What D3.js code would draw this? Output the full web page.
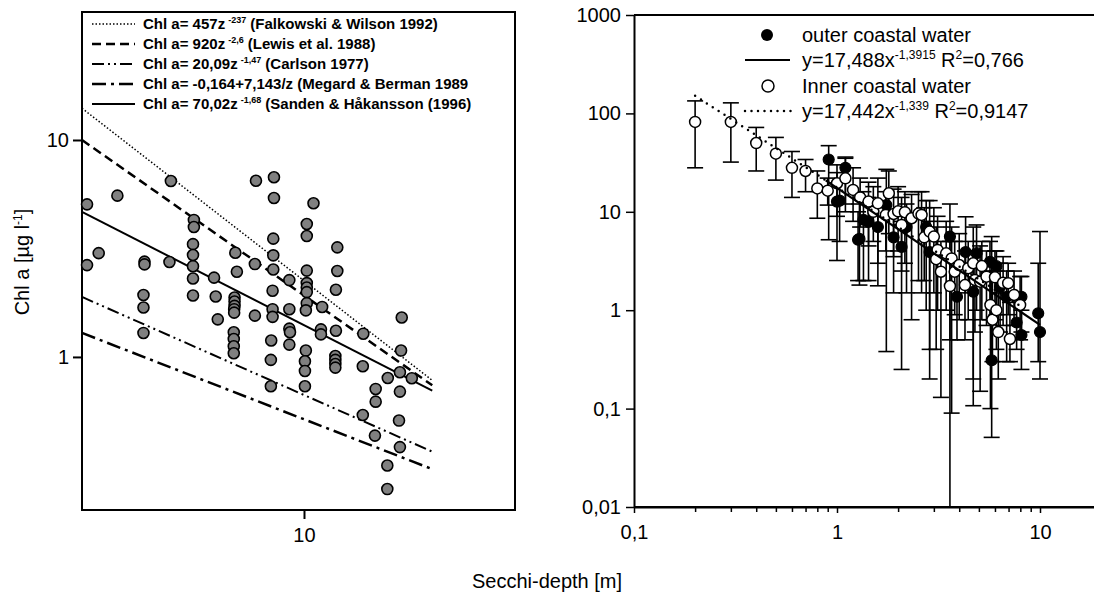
<!DOCTYPE html>
<html>
<head>
<meta charset="utf-8">
<script src="https://cdn.jsdelivr.net/npm/d3@7"></script>
<style>
  body { margin: 0; background: #fff; }
  text { font-family: Arial, "Liberation Sans", sans-serif; fill: #000; }
</style>
</head>
<body>
<script>
// left panel: Secchi depth vs Chl a, with literature models
const leftDepth = [6.52,5.49,4.98,8.57,9.08,9.08,10.31,7.02,7.02,5.17,7.00,7.00,4.98,5.99,5.99,6.49,7.00,8.02,8.06,8.54,
  7.00,7.49,7.00,7.53,5.97,5.97,8.00,8.00,8.00,7.99,7.99,7.58,8.54,5.97,7.98,7.98,7.98,7.98,10.09,10.09,
  11.13,9.06,9.06,9.06,9.54,10.09,11.13,10.09,10.09,10.09,11.08,9.04,10.09,10.06,10.60,9.04,9.04,9.54,13.69,9.54,
  9.56,10.56,10.56,11.08,12.10,9.00,9.54,10.06,13.66,11.06,11.06,11.06,11.06,10.03,10.03,8.99,12.08,13.61,14.14,13.09,
  8.99,10.03,12.59,13.61,12.59,12.08,13.57,12.56,13.61,13.07,13.07];
const leftChl = [6.47,5.54,5.05,6.49,6.73,5.40,5.11,4.28,3.97,3.01,3.31,2.95,2.65,2.75,2.67,2.74,2.62,3.02,2.47,2.68,
  2.30,2.32,1.92,1.90,1.93,1.69,1.88,1.80,1.72,1.66,1.60,1.49,1.55,1.29,1.30,1.21,1.12,1.04,4.10,3.61,
  3.20,3.51,2.94,2.53,2.26,2.50,2.49,2.19,2.09,1.99,2.04,2.02,1.77,1.64,1.70,1.66,1.53,1.66,1.52,1.35,
  1.30,1.34,1.27,1.32,1.28,1.19,1.14,1.07,1.07,1.01,0.969,0.928,0.893,0.955,0.862,0.969,0.906,0.850,0.798,0.800,
  0.733,0.733,0.712,0.692,0.622,0.540,0.509,0.434,0.384,0.316,0.246];

// model lines, start and end
const modelDepth = [4.9, 15.1];
const modelChl = [[14.0, 0.78], [10.0, 0.74], [1.89, 0.366], [1.29, 0.304], [4.66, 0.70]];
const modelLabel = ["Chl a= 457z", "Chl a= 920z", "Chl a= 20,09z", "Chl a= -0,164+7,143/z", "Chl a= 70,02z"];
const modelSup = ["-237", "-2,6", "-1,47", "", "-1,68"];
const modelRef = [" (Falkowski & Wilson 1992)", " (Lewis et al. 1988)", " (Carlson 1977)", " (Megard & Berman 1989", " (Sanden & Håkansson (1996)"];
const modelDash = ["1.5,2", "9,5", "12,4,2,4,2,4", "14,5,3,5", null];
const modelWidth = [1.5, 2.5, 2, 2.5, 2];

// right panel: inner and outer coastal water, mean with range
const innerX = [0.2,0.3,0.4,0.5,0.6,0.7,0.8,0.9,1.0,1.1,1.2,1.3,1.43,1.51,1.59,1.74,1.8,1.9,2.0,2.08,
  2.16,2.33,2.52,2.61,2.69,2.86,3.0,3.08,3.13,3.25,3.45,3.6,3.67,3.8,4.0,4.27,4.43,4.69,4.78,5.07,
  5.17,5.45,5.7,5.83,6.0,6.1,6.23,6.58,6.97,7.11,7.45,7.98];
const innerY = [82,82,50,39,28,26,17.3,16.4,19.5,21.9,16.7,14.0,12.7,10.0,12.2,9.3,15.4,9.5,10.1,7.35,
  9.9,8.6,9.6,9.3,5.5,6.3,5.6,3.3,4.1,2.46,3.78,1.76,3.36,2.46,2.88,1.8,2.67,3.0,2.03,1.95,
  2.81,2.19,1.13,0.8,2.16,1.0,0.6,1.9,1.88,0.51,1.43,1.13];
const innerHi = [134,128,72,57,41,34,26,22,30,35,28,22,20,18,22,16,26,17,18,14,
  16,15,16,16,11,13,11,7,9,5,8,5,7,5,6,4,5,7,4,4.5,
  5,4,2.5,2,4,2.5,1.5,3.5,3,1.2,2.5,2.2];
const innerLo = [28,32,26,21,14,16,8.6,11.7,9,12,8,7,4.5,5,3,4,6,3.5,4,2.5,
  3,0.8,2,1.5,2,0.2,1.5,0.4,1,0.13,1,0.5,0.09,0.9,0.8,0.5,0.8,0.2,0.6,0.15,
  0.8,0.7,0.1,0.3,0.8,0.4,0.2,0.7,0.9,0.3,0.7,0.5];

const outerX = [0.91,1.0,1.03,1.1,1.27,1.29,1.35,1.43,1.59,1.75,1.9,2.08,2.2,2.75,2.86,3.6,3.9,4.3,4.69,4.87,
  5.67,5.78,6.1,6.36,6.85,7.67,8.1,8.1,9.8,10];
const outerY = [34,12.7,13,28,5.2,5.3,8.3,7.9,7.0,11.7,5.5,4.4,7.0,7.0,3.9,5.6,1.37,3.9,1.54,3.8,
  3.1,0.31,2.8,1.73,1.37,0.75,0.56,1.37,0.93,0.6];
const outerHi = [47,25,20,36,10,12,16,14,12,27,10,8,12,13,8,12,3,8.9,3,7.35,
  5,5.6,4,3,2.5,1.5,1,2.2,3,6.3];
const outerLo = [5.2,3.2,5,10,2,1.8,2,2,1.77,0.38,1.5,0.25,1.5,1,0.4,0.001,0.5,1.5,0.107,1,
  0.8,0.051,0.9,0.6,0.3,0.4,0.25,0.6,0.3,0.2];

// power fits (start / end)
const outerFitX = [0.88, 10], outerFitY = [20.9, 0.71];
const innerFitX = [0.2, 8], innerFitY = [151, 1.1];

const svg = d3.select("body").append("svg")
  .attr("width", 1094)
  .attr("height", 598);

// ---------- left panel ----------
const lx = d3.scaleLog().domain([4.9, 19.7]).range([82, 515]);
const ly = d3.scaleLog().domain([0.197, 38.9]).range([510, 12]);

const left = svg.append("g");

left.append("rect")
  .attr("x", 82).attr("y", 12)
  .attr("width", 433).attr("height", 498)
  .attr("fill", "none").attr("stroke", "#000").attr("stroke-width", 2);

const lyAxis = left.append("g")
  .attr("transform", "translate(82,0)")
  .call(d3.axisLeft(ly).tickValues([1, 10]).tickFormat(d3.format("d")).tickSize(9).tickSizeOuter(0).tickPadding(4));
const lxAxis = left.append("g")
  .attr("transform", "translate(0,510)")
  .call(d3.axisBottom(lx).tickValues([10]).tickFormat(d3.format("d")).tickSize(9).tickSizeOuter(0).tickPadding(9));
[lyAxis, lxAxis].forEach(a => {
  a.select(".domain").remove();
  a.selectAll("line").attr("stroke-width", 2);
  a.selectAll("text").style("font-size", "20px").style("font-family", "Arial, 'Liberation Sans', sans-serif");
});

const line = d3.line();
modelChl.forEach((c, i) => {
  left.append("path")
    .attr("d", line(modelDepth.map((d, j) => [lx(d), ly(c[j])])))
    .attr("fill", "none")
    .attr("stroke", "#000")
    .attr("stroke-width", modelWidth[i])
    .attr("stroke-dasharray", modelDash[i]);
});

left.selectAll("circle.pt")
  .data(leftDepth)
  .enter()
  .append("circle")
  .attr("cx", d => lx(d))
  .attr("cy", (d, i) => ly(leftChl[i]))
  .attr("r", 5.5)
  .attr("fill", "#808080")
  .attr("stroke", "#000")
  .attr("stroke-width", 1.6);

// legend
modelLabel.forEach((lab, i) => {
  const y = 24 + i * 20;
  left.append("line")
    .attr("x1", 92).attr("x2", 135).attr("y1", y).attr("y2", y)
    .attr("stroke", "#000")
    .attr("stroke-width", modelWidth[i])
    .attr("stroke-dasharray", modelDash[i]);
  const t = left.append("text")
    .attr("x", 143).attr("y", y + 5)
    .style("font-size", "15px").style("font-weight", "bold");
  t.append("tspan").text(lab);
  if (modelSup[i]) {
    t.append("tspan").attr("dx", 3).attr("dy", -6).style("font-size", "9px").text(modelSup[i]);
    t.append("tspan").attr("dy", 6).text(modelRef[i]);
  } else {
    t.append("tspan").text(modelRef[i]);
  }
});

svg.append("text")
  .attr("transform", "translate(29,262) rotate(-90)")
  .attr("text-anchor", "middle")
  .style("font-size", "20px")
  .call(t => {
    t.append("tspan").text("Chl a [µg l");
    t.append("tspan").attr("dy", -7).style("font-size", "12px").text("-1");
    t.append("tspan").attr("dy", 7).text("]");
  });

// ---------- right panel ----------
const rx = d3.scaleLog().domain([0.1, 100]).range([634, 1243]);
const ry = d3.scaleLog().domain([0.01, 1000]).range([507, 15]);
const comma = d => String(d).replace(".", ",");

const right = svg.append("g");

const ryAxis = right.append("g")
  .attr("transform", "translate(634,0)")
  .call(d3.axisLeft(ry).tickValues([0.01, 0.1, 1, 10, 100, 1000]).tickFormat(comma).tickSize(8).tickSizeOuter(0).tickPadding(5));

const minorTicks = [];
[0.1, 1, 10].forEach(b => { for (let k = 2; k <= 9; k++) minorTicks.push(b * k); });
const rxMinor = right.append("g")
  .attr("transform", "translate(0,507)")
  .call(d3.axisBottom(rx).tickValues(minorTicks).tickFormat("").tickSize(5).tickSizeOuter(0));
const rxAxis = right.append("g")
  .attr("transform", "translate(0,507)")
  .call(d3.axisBottom(rx).tickValues([0.1, 1, 10]).tickFormat(comma).tickSize(6).tickSizeOuter(0).tickPadding(12));

[ryAxis, rxMinor, rxAxis].forEach(a => {
  a.select(".domain").attr("stroke-width", 2);
  a.selectAll("line").attr("stroke-width", 1.5);
  a.selectAll("text").style("font-size", "20px").style("font-family", "Arial, 'Liberation Sans', sans-serif");
});
rxMinor.select(".domain").remove();
right.append("line")
  .attr("x1", 634).attr("x2", 1094).attr("y1", 15).attr("y2", 15)
  .attr("stroke", "#000").attr("stroke-width", 2);
right.append("line")
  .attr("x1", 634).attr("x2", 1094).attr("y1", 507).attr("y2", 507)
  .attr("stroke", "#000").attr("stroke-width", 2);

function errorBars(xs, his, los) {
  const g = right.append("g").attr("stroke", "#000").attr("stroke-width", 1.6);
  xs.forEach((x, i) => {
    const cx = rx(x);
    const top = ry(his[i]);
    const bot = Math.min(ry(Math.max(los[i], 0.01)), 507);
    g.append("line").attr("x1", cx).attr("x2", cx).attr("y1", top).attr("y2", bot);
    g.append("line").attr("x1", cx - 8).attr("x2", cx + 8).attr("y1", top).attr("y2", top);
    if (los[i] >= 0.01) g.append("line").attr("x1", cx - 8).attr("x2", cx + 8).attr("y1", bot).attr("y2", bot);
  });
}
errorBars(outerX, outerHi, outerLo);
errorBars(innerX, innerHi, innerLo);

right.selectAll("circle.outer")
  .data(outerX)
  .enter()
  .append("circle")
  .attr("cx", d => rx(d))
  .attr("cy", (d, i) => ry(outerY[i]))
  .attr("r", 5.5)
  .attr("fill", "#000")
  .attr("stroke", "#000")
  .attr("stroke-width", 1.2);

right.selectAll("circle.inner")
  .data(innerX)
  .enter()
  .append("circle")
  .attr("cx", d => rx(d))
  .attr("cy", (d, i) => ry(innerY[i]))
  .attr("r", 5.5)
  .attr("fill", "#fff")
  .attr("stroke", "#000")
  .attr("stroke-width", 1.5);

right.append("path")
  .attr("d", line(outerFitX.map((x, i) => [rx(x), ry(outerFitY[i])])))
  .attr("fill", "none").attr("stroke", "#000").attr("stroke-width", 2.2);
right.append("path")
  .attr("d", line(innerFitX.map((x, i) => [rx(x), ry(innerFitY[i])])))
  .attr("fill", "none").attr("stroke", "#000").attr("stroke-width", 2.5)
  .attr("stroke-dasharray", "0,7").attr("stroke-linecap", "round");

// right legend
const legRows = [35, 60, 86, 111];
right.append("circle").attr("cx", 767).attr("cy", legRows[0]).attr("r", 6).attr("fill", "#000");
right.append("line").attr("x1", 745).attr("x2", 790).attr("y1", legRows[1]).attr("y2", legRows[1])
  .attr("stroke", "#000").attr("stroke-width", 2.2);
right.append("circle").attr("cx", 768).attr("cy", legRows[2]).attr("r", 6)
  .attr("fill", "#fff").attr("stroke", "#000").attr("stroke-width", 1.5);
right.append("line").attr("x1", 745).attr("x2", 792).attr("y1", legRows[3]).attr("y2", legRows[3])
  .attr("stroke", "#000").attr("stroke-width", 2.5)
  .attr("stroke-dasharray", "0,6.5").attr("stroke-linecap", "round");

const legText = (y, parts) => {
  const t = right.append("text").attr("x", 802).attr("y", y + 7).style("font-size", "20px");
  parts.forEach(p => {
    const s = t.append("tspan").text(p[0]);
    if (p[1] === "sup") s.attr("dy", -8).style("font-size", "12px");
    if (p[1] === "base") s.attr("dy", 8);
  });
};
legText(legRows[0], [["outer coastal water"]]);
legText(legRows[1], [["y=17,488x"], ["-1,3915", "sup"], [" R", "base"], ["2", "sup"], ["=0,766", "base"]]);
legText(legRows[2], [["Inner coastal water"]]);
legText(legRows[3], [["y=17,442x"], ["-1,339", "sup"], [" R", "base"], ["2", "sup"], ["=0,9147", "base"]]);

svg.append("text")
  .attr("x", 547).attr("y", 588)
  .attr("text-anchor", "middle")
  .style("font-size", "20px")
  .text("Secchi-depth [m]");
</script>
</body>
</html>
